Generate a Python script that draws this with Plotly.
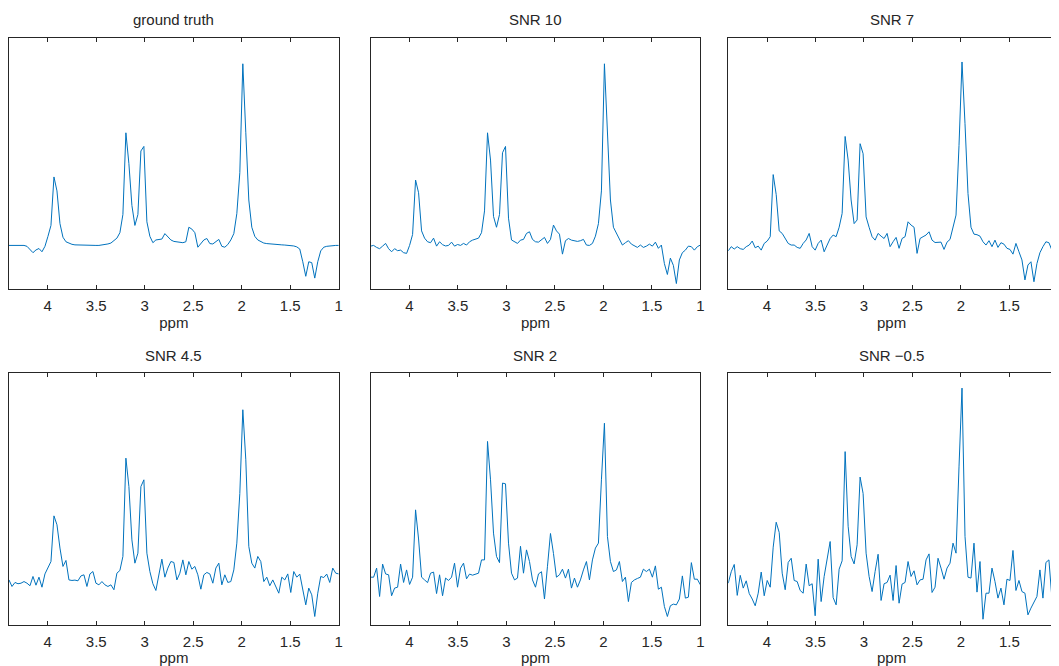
import numpy as np
import plotly.graph_objects as go

# chemical shift axis of the sampled spectrum (ppm), 111 samples
ppm = np.linspace(4.40, 1.00, 111)

titles = ["ground truth", "SNR 10", "SNR 7", "SNR 4.5", "SNR 2", "SNR \u22120.5"]

ground_truth = [
    0, 0, 0, 0, 0, 0, -0.005, -0.02, -0.04, -0.025,
    -0.017, -0.035, -0.005, 0.05, 0.11, 0.377, 0.30, 0.12, 0.045, 0.02,
    0.012, 0.006, 0.003, 0.002, 0.001, 0, 0, 0, 0, 0,
    0, 0.002, 0.004, 0.008, 0.013, 0.025, 0.04, 0.07, 0.17, 0.62,
    0.45, 0.22, 0.11, 0.17, 0.52, 0.545, 0.13, 0.05, 0.015, 0.03,
    0.033, 0.035, 0.065, 0.045, 0.03, 0.022, 0.02, 0.02, 0.015, 0.02,
    0.10, 0.09, 0.07, -0.01, 0.01, 0.03, 0.038, 0.01, 0.008, 0.02,
    0.033, -0.005, -0.01, 0.005, 0.03, 0.065, 0.175, 0.40, 1.0, 0.62,
    0.25, 0.10, 0.05, 0.03, 0.02, 0.013, 0.01, 0.008, 0.006, 0.005,
    0.004, 0.003, 0.002, 0.001, 0, -0.003, -0.008, -0.02, -0.09, -0.17,
    -0.09, -0.095, -0.18, -0.09, -0.03, -0.01, -0.005, -0.002, 0, 0,
    0,
]

snr_10 = [
    -0.004, 0.0, -0.011, -0.018, -0.004, 0.011, -0.018, -0.035, -0.018, -0.029,
    -0.026, -0.04, -0.044, 0.0, 0.06, 0.36, 0.29, 0.08, 0.04, 0.02,
    0.015, 0.04, -0.004, 0.02, 0.004, -0.003, 0.0, 0.018, -0.004, 0.005,
    0.0, 0.011, 0.002, 0.02, 0.029, 0.035, 0.04, 0.07, 0.19, 0.62,
    0.47, 0.16, 0.10, 0.17, 0.51, 0.545, 0.15, 0.03, 0.02, 0.011,
    0.029, 0.033, 0.066, 0.075, 0.033, 0.02, 0.018, 0.033, 0.044, 0.011,
    0.033, 0.112, 0.08, 0.062, -0.048, 0.026, 0.038, 0.029, 0.026, 0.022,
    0.026, 0.033, 0.002, 0.0, 0.011, 0.051, 0.12, 0.30, 1.0, 0.65,
    0.25, 0.10, 0.066, 0.029, 0.002, 0.015, 0.026, 0.007, -0.004, -0.011,
    0.002, -0.011, -0.004, 0.007, -0.004, 0.018, -0.016, 0.002, -0.10, -0.16,
    -0.07, -0.11, -0.21, -0.08, -0.04, -0.026, -0.004, -0.007, -0.026, -0.007,
    0.002,
]

snr_7 = [
    -0.03, -0.007, -0.02, -0.007, -0.018, -0.022, -0.007, 0.002, 0.024, -0.013,
    -0.004, -0.026, 0.011, 0.024, 0.048, 0.39, 0.28, 0.08, 0.066, 0.038,
    0.011, 0.002, 0.002, -0.011, -0.016, 0.011, 0.03, 0.066, -0.007, -0.026,
    0.011, 0.029, -0.035, 0.002, 0.038, 0.057, 0.048, 0.10, 0.176, 0.60,
    0.47, 0.25, 0.12, 0.14, 0.56, 0.505, 0.157, 0.10, 0.048, 0.029,
    0.066, 0.051, 0.038, 0.066, -0.007, 0.02, 0.044, -0.016, 0.038, 0.048,
    0.13, 0.112, 0.10, -0.044, 0.038, 0.048, 0.057, 0.075, 0.029, 0.016,
    0.015, 0.018, -0.022, 0.018, 0.033, 0.10, 0.167, 0.55, 1.01, 0.67,
    0.286, 0.10, 0.062, 0.059, 0.051, 0.02, 0.002, 0.026, -0.007, 0.029,
    -0.011, 0.015, 0.007, -0.016, -0.022, -0.048, 0.011, -0.035, -0.08, -0.19,
    -0.108, -0.09, -0.20, -0.10, -0.04, -0.007, 0.02, 0.015, -0.026, 0.02,
    0.011,
]

snr_4_5 = [
    0.005, -0.031, -0.009, -0.016, -0.013, -0.004, -0.013, -0.027, 0.024, -0.024,
    0.02, -0.035, 0.038, 0.073, 0.106, 0.357, 0.308, 0.18, 0.079, 0.112,
    0.005, 0.002, 0.004, 0.0, 0.027, 0.033, -0.031, 0.038, 0.051, -0.013,
    -0.022, -0.004, -0.022, -0.031, -0.022, -0.049, 0.042, 0.057, 0.134, 0.674,
    0.518, 0.225, 0.097, 0.152, 0.518, 0.555, 0.152, 0.051, -0.016, -0.053,
    0.042, 0.119, 0.02, 0.07, 0.106, 0.101, 0.005, 0.042, 0.115, 0.033,
    0.106, 0.064, 0.079, 0.033, -0.046, 0.033, 0.046, 0.038, -0.013, 0.07,
    0.097, -0.022, 0.033, -0.009, -0.004, 0.06, 0.207, 0.48, 0.94, 0.665,
    0.189, 0.097, 0.07, 0.134, 0.106, -0.004, 0.02, -0.027, 0.005, -0.035,
    -0.068, 0.02, 0.005, 0.038, -0.064, 0.051, 0.02, 0.037, -0.059, -0.132,
    -0.04, -0.077, -0.196, -0.068, 0.024, 0.018, 0.037, -0.009, 0.07, 0.042,
    0.038,
]

snr_2 = [
    0.02, 0.02, 0.07, -0.086, 0.092, 0.038, 0.033, -0.082, -0.04, -0.035,
    0.092, -0.009, 0.06, -0.02, 0.02, 0.39, 0.23, 0.02, 0.005, -0.01,
    0.042, 0.048, -0.07, 0.033, -0.082, 0.015, 0.002, 0.02, 0.097, -0.035,
    0.07, 0.097, 0.011, 0.037, 0.031, 0.037, 0.042, 0.115, 0.115, 0.766,
    0.555, 0.262, 0.134, 0.10, 0.537, 0.533, 0.207, 0.042, 0.005, 0.015,
    0.19, 0.042, 0.17, 0.106, 0.005, -0.035, 0.038, 0.05, -0.10, 0.08,
    0.26, 0.15, 0.02, 0.033, 0.064, 0.015, 0.064, -0.04, 0.015, -0.035,
    0.005, 0.06, 0.106, 0.005, 0.115, 0.18, 0.207, 0.555, 0.866, 0.244,
    0.106, 0.051, 0.06, 0.106, -0.004, 0.02, -0.114, -0.009, 0.005, 0.013,
    0.02, 0.064, 0.051, 0.064, 0.02, 0.082, -0.046, -0.035, -0.141, -0.196,
    -0.137, -0.128, -0.132, -0.10, 0.027, -0.095, -0.09, 0.10, 0.009, 0.009,
    -0.022,
]

snr_m0_5 = [
    -0.013, 0.05, 0.09, -0.08, 0.03, -0.04, 0.0, -0.07, -0.10, -0.137,
    -0.068, 0.048, -0.082, 0.002, -0.035, 0.185, 0.322, 0.266, 0.042, -0.049,
    0.101, 0.124, 0.002, -0.004, -0.053, -0.068, 0.092, -0.027, -0.016, -0.192,
    0.119, -0.114, 0.024, 0.11, 0.216, -0.092, -0.132, 0.064, 0.11, 0.71,
    0.30, 0.134, 0.093, 0.198, 0.57, 0.48, 0.152, 0.024, -0.059, 0.051,
    0.146, -0.108, -0.016, -0.009, 0.031, -0.108, 0.084, -0.123, -0.018, -0.009,
    0.106, 0.024, 0.055, -0.022, 0.005, 0.009, 0.115, 0.148, -0.064, -0.035,
    0.124, 0.07, 0.009, 0.07, 0.097, 0.207, 0.152, 0.626, 1.059, 0.244,
    0.02, 0.015, 0.207, -0.062, 0.106, -0.211, -0.068, -0.068, 0.07, -0.004,
    -0.095, -0.04, -0.132, 0.009, 0.002, 0.167, -0.053, 0.002, -0.059, -0.068,
    -0.187, -0.15, -0.114, -0.086, 0.06, -0.095, 0.101, 0.115, -0.095, -0.031,
    0.0,
]

series = [ground_truth, snr_10, snr_7, snr_4_5, snr_2, snr_m0_5]

tick_vals = [1, 1.5, 2, 2.5, 3, 3.5, 4]
tick_text = ["1", "1.5", "2", "2.5", "3", "3.5", "4"]

# the page body adds an 8px margin, so the figure is drawn 8px smaller
OFF = 8
W, H = 1059 - OFF, 666 - OFF
# panel frames in page pixels (left, right, top, bottom)
cols = [(9, 340), (372, 703), (731, 1059)]
rows = [(38, 289), (373, 624.5)]
x_right = [1.0, 1.0, 1.03]

FONT = "Liberation Sans, Arial, Helvetica, sans-serif"
INK = "#262626"

fig = go.Figure()
for i, (title, y) in enumerate(zip(titles, series)):
    r, c = divmod(i, 3)
    n = i + 1
    xa = "x" if n == 1 else f"x{n}"
    ya = "y" if n == 1 else f"y{n}"
    fig.add_trace(go.Scatter(
        x=ppm, y=y, mode="lines", xaxis=xa, yaxis=ya,
        line=dict(color="#0072BD", width=1), showlegend=False,
    ))
    l, rr = [v - OFF for v in cols[c]]
    t, b = [v - OFF for v in rows[r]]
    fig.layout[f"xaxis{'' if n == 1 else n}"] = dict(
        domain=[max(l, 0) / W, min(rr / W, 1)], anchor=ya,
        range=[4.40, x_right[c]], tickvals=tick_vals, ticktext=tick_text,
        ticks="inside", ticklen=4, tickcolor=INK, tickwidth=1,
        showline=True, linecolor=INK, linewidth=1, mirror="ticks",
        showgrid=False, zeroline=False, ticklabelstandoff=3,
        tickfont=dict(family=FONT, size=15, color=INK),
        title=dict(text="ppm", standoff=1, font=dict(family=FONT, size=15, color=INK)),
    )
    fig.layout[f"yaxis{'' if n == 1 else n}"] = dict(
        domain=[1 - b / H, 1 - t / H], anchor=xa,
        range=[-0.24, 1.142], showticklabels=False, ticks="",
        showline=True, linecolor=INK, linewidth=1, mirror=(c != 2),
        showgrid=False, zeroline=False,
    )
    fig.add_annotation(
        text=title, xref="paper", yref="paper",
        x=(l + rr) / 2 / W, y=1 - (t - 18) / H,
        xanchor="center", yanchor="middle", showarrow=False,
        font=dict(family=FONT, size=15, color=INK),
    )

fig.update_layout(
    width=W, height=H, margin=dict(l=0, r=0, t=0, b=0),
    paper_bgcolor="white", plot_bgcolor="white",
)
fig.write_html("out.html")
